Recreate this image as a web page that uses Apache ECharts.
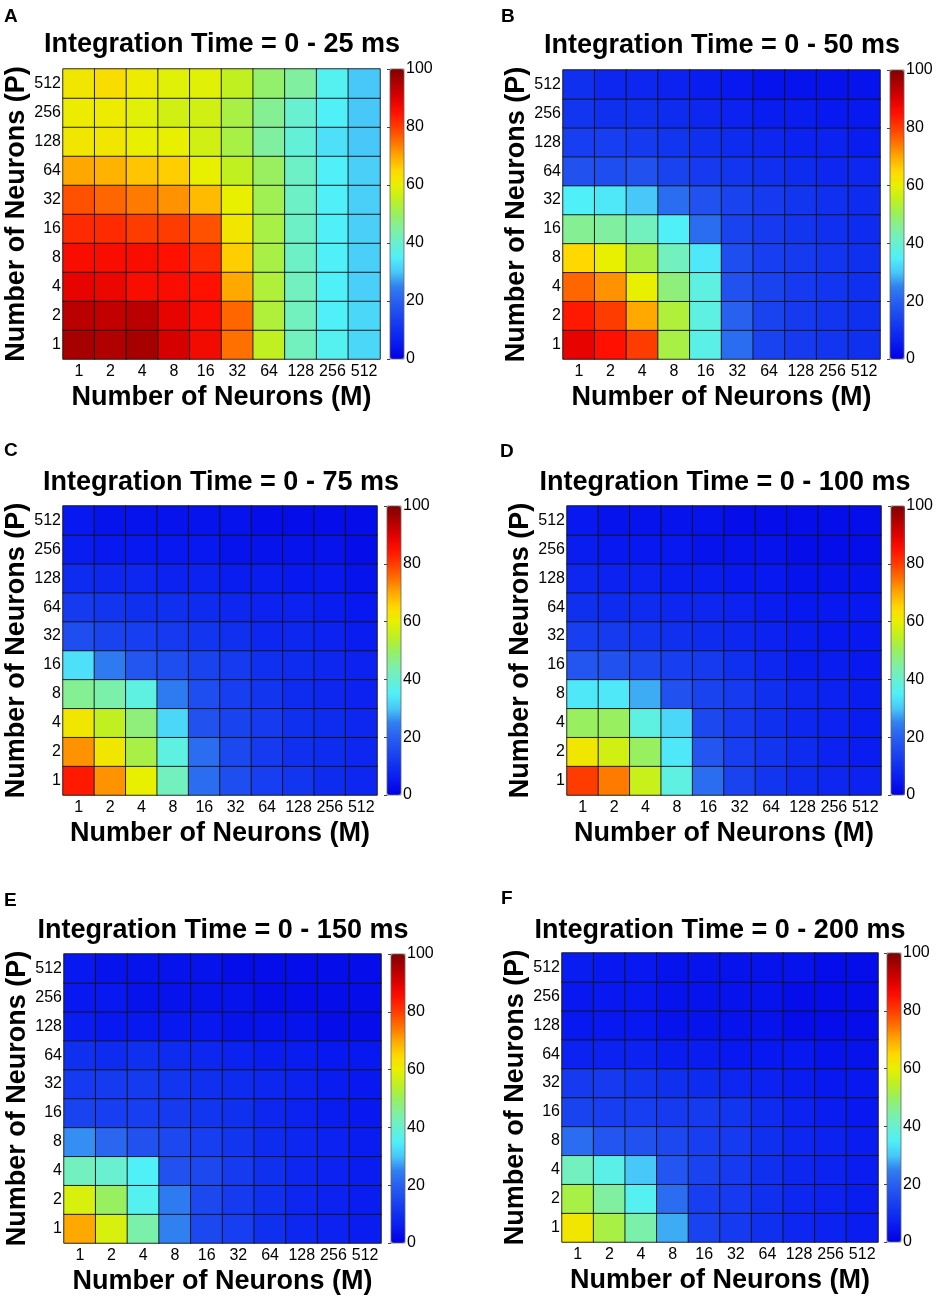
<!DOCTYPE html>
<html>
<head>
<meta charset="utf-8">
<script src="https://cdn.jsdelivr.net/npm/echarts@6/dist/echarts.min.js"></script>
<style>
html,body{margin:0;padding:0;background:#fff;}
#chart{width:936px;height:1300px;}
</style>
</head>
<body>
<div id="chart"></div>
<script>
// ---- Data ----
const mLabels = ['1','2','4','8','16','32','64','128','256','512'];
const pLabels = ['1','2','4','8','16','32','64','128','256','512'];
const panelLetters = ['A','B','C','D','E','F'];
const panelTitles = [
  'Integration Time = 0 - 25 ms',
  'Integration Time = 0 - 50 ms',
  'Integration Time = 0 - 75 ms',
  'Integration Time = 0 - 100 ms',
  'Integration Time = 0 - 150 ms',
  'Integration Time = 0 - 200 ms'
];
const colorbarTicks = [0, 20, 40, 60, 80, 100];

// rows: P = 1, 2, 4, ... 512 (bottom to top); columns: M = 1 ... 512
const valuesA = [
  [96,95,96,91,87,75,55,42,36,32],
  [94,93,94,89,86,76,53,42,35,32],
  [89,88,86,86,85,70,53,42,35,31],
  [86,86,86,85,82,66,52,41,35,31],
  [82,82,80,80,78,62,52,41,35,31],
  [78,76,74,72,68,60,51,41,35,31],
  [70,69,67,66,60,55,50,41,35,31],
  [62,62,60,60,57,52,45,39,33,30],
  [61,61,59,57,57,52,46,40,35,30],
  [62,64,61,59,59,55,49,45,36,30]
];
const valuesB = [
  [89,85,80,52,37,22,14,12,11,10],
  [84,80,70,53,38,20,14,12,11,10],
  [76,72,60,48,38,17,14,12,11,10],
  [65,60,52,42,34,16,13,12,11,10],
  [46,45,42,35,22,14,12,11,10,9],
  [35,34,30,22,17,14,12,11,10,9],
  [17,16,17,14,12,11,10,9,8,8],
  [13,13,12,11,10,9,8,7,7,6],
  [11,10,10,9,8,7,6,6,5,5],
  [10,8,8,7,6,5,4,4,4,4]
];
const valuesC = [
  [84,72,60,42,22,16,13,11,9,8],
  [72,62,52,38,22,15,12,10,9,8],
  [62,55,48,32,17,14,12,10,9,8],
  [46,44,38,24,16,13,11,9,8,7],
  [33,24,18,16,14,12,10,9,8,7],
  [16,14,13,12,11,10,8,8,7,6],
  [12,11,10,10,9,8,7,7,6,5],
  [9,8,8,7,7,6,6,5,5,4],
  [6,5,5,5,5,4,4,4,4,3],
  [5,4,4,4,4,4,3,3,3,3]
];
const valuesD = [
  [80,74,56,38,22,14,11,9,8,7],
  [62,57,50,34,18,13,11,9,7,6],
  [50,50,38,32,15,12,10,8,7,6],
  [34,34,28,17,14,12,10,8,7,6],
  [18,17,15,13,12,10,8,6,6,5],
  [13,12,11,10,9,8,7,6,5,5],
  [10,9,9,8,8,7,6,5,5,5],
  [8,7,7,6,6,5,5,4,4,4],
  [6,5,5,5,4,4,4,3,3,3],
  [5,4,4,4,4,3,3,3,3,3]
];
const valuesE = [
  [70,58,44,25,15,13,10,8,7,6],
  [58,50,36,24,15,12,10,8,7,6],
  [42,40,35,17,15,12,10,8,7,6],
  [26,21,17,15,13,11,9,8,7,6],
  [14,13,13,12,11,10,8,7,6,5],
  [12,12,12,11,10,9,8,7,6,5],
  [10,9,10,9,8,7,6,6,5,5],
  [6,5,5,5,5,4,4,4,3,3],
  [5,5,4,4,4,4,3,3,3,3],
  [5,4,4,4,4,3,3,3,3,3]
];
const valuesF = [
  [62,52,44,28,14,12,10,8,7,6],
  [52,45,36,22,13,12,10,8,7,6],
  [42,37,30,18,14,12,10,8,7,6],
  [22,18,17,15,13,12,10,8,7,6],
  [14,13,13,12,12,11,9,7,6,5],
  [12,12,11,10,9,8,7,6,5,5],
  [7,7,7,6,6,5,5,5,4,4],
  [5,5,5,4,4,4,4,3,3,3],
  [5,5,5,4,4,4,4,3,3,3],
  [6,5,5,4,4,4,4,4,3,3]
];
const panelValues = [valuesA, valuesB, valuesC, valuesD, valuesE, valuesF];

// ---- Styling / layout ----
const jetColors = [
  '#0000e0','#0818f0','#1030f0','#1c48f0','#2860f0','#3080f0',
  '#48c8f8','#50f0f8','#68f0d0','#80f0a0','#98f060','#c0f020',
  '#e8f000','#ffd800','#ffa800','#ff7000','#ff3c00','#ff1000',
  '#e00000','#b00000','#800000'
];
const layout = [
  {g:[63,69,317,290],  cb:[390,69],  title:[222,31],  letter:[4,7]},
  {g:[563,70,317,289], cb:[890,70],  title:[722,32],  letter:[501,7]},
  {g:[63,506,314,289], cb:[387,506], title:[221,469], letter:[4,441]},
  {g:[567,506,314,289],cb:[891,506], title:[725,469], letter:[500,442]},
  {g:[64,954,317,289], cb:[391,954], title:[223,917], letter:[4,891]},
  {g:[562,953,316,289],cb:[887,953], title:[720,917], letter:[501,889]}
];
const FONT = '"Liberation Sans", Arial, Helvetica, sans-serif';

const option = {
  backgroundColor: '#fff',
  animation: false,
  title: [], grid: [], xAxis: [], yAxis: [], visualMap: [], series: []
};

layout.forEach((L, i) => {
  option.title.push({
    text: panelTitles[i], left: L.title[0], top: L.title[1], textAlign: 'center', padding: 0,
    textStyle: {fontFamily: FONT, fontWeight: 'bold', fontSize: 27, color: '#000'}
  });
  option.title.push({
    text: panelLetters[i], left: L.letter[0], top: L.letter[1], padding: 0,
    textStyle: {fontFamily: FONT, fontWeight: 'bold', fontSize: 19, color: '#000'}
  });
  // heatmap grid
  const gi = option.grid.length;
  option.grid.push({left: L.g[0], top: L.g[1], width: L.g[2], height: L.g[3], containLabel: false});
  option.xAxis.push({
    type: 'category', gridIndex: gi, data: mLabels,
    name: 'Number of Neurons (M)', nameLocation: 'middle', nameGap: 25,
    nameTextStyle: {fontFamily: FONT, fontWeight: 'bold', fontSize: 27, color: '#000'},
    axisLine: {show: false}, axisTick: {show: false}, splitLine: {show: false},
    axisLabel: {fontFamily: FONT, fontSize: 16, color: '#000', margin: 5, interval: 0}
  });
  option.yAxis.push({
    type: 'category', gridIndex: gi, data: pLabels,
    name: 'Number of Neurons (P)', nameLocation: 'middle', nameGap: 33, nameRotate: 90,
    nameTextStyle: {fontFamily: FONT, fontWeight: 'bold', fontSize: 27, color: '#000'},
    axisLine: {show: false}, axisTick: {show: false}, splitLine: {show: false},
    axisLabel: {fontFamily: FONT, fontSize: 16, color: '#000', margin: 2, interval: 0}
  });
  const vals = panelValues[i];
  const data = [];
  vals.forEach((row, r) => row.forEach((v, c) => data.push([c, r, v])));
  const si = option.series.length;
  option.series.push({
    type: 'heatmap', xAxisIndex: gi, yAxisIndex: gi, data: data,
    itemStyle: {borderColor: 'rgba(20,20,20,0.9)', borderWidth: 1},
    emphasis: {disabled: true}, silent: true
  });
  option.visualMap.push({
    type: 'continuous', min: 0, max: 100, seriesIndex: si, orient: 'vertical',
    left: L.cb[0], top: L.cb[1], itemWidth: 14, itemHeight: L.g[3], padding: 0,
    calculable: false, hoverLink: false, inRange: {color: jetColors}, text: null
  });
  // colorbar axis overlay
  const ci = option.grid.length;
  option.grid.push({left: L.cb[0], top: L.cb[1], width: 14, height: L.g[3], show: true,
    borderColor: '#666', borderWidth: 0.8, backgroundColor: 'transparent', z: 10});
  option.xAxis.push({type: 'value', gridIndex: ci, show: false, min: 0, max: 1});
  option.yAxis.push({
    type: 'value', gridIndex: ci, position: 'right', min: 0, max: 100, interval: 20, z: 10,
    axisLine: {show: false}, splitLine: {show: false},
    axisTick: {show: true, inside: true, length: 3, lineStyle: {color: '#444'}},
    axisLabel: {fontFamily: FONT, fontSize: 16, color: '#000', margin: 2,
      customValues: colorbarTicks}
  });
});

const chart = echarts.init(document.getElementById('chart'), null, {renderer: 'canvas'});
chart.setOption(option);
</script>
</body>
</html>
